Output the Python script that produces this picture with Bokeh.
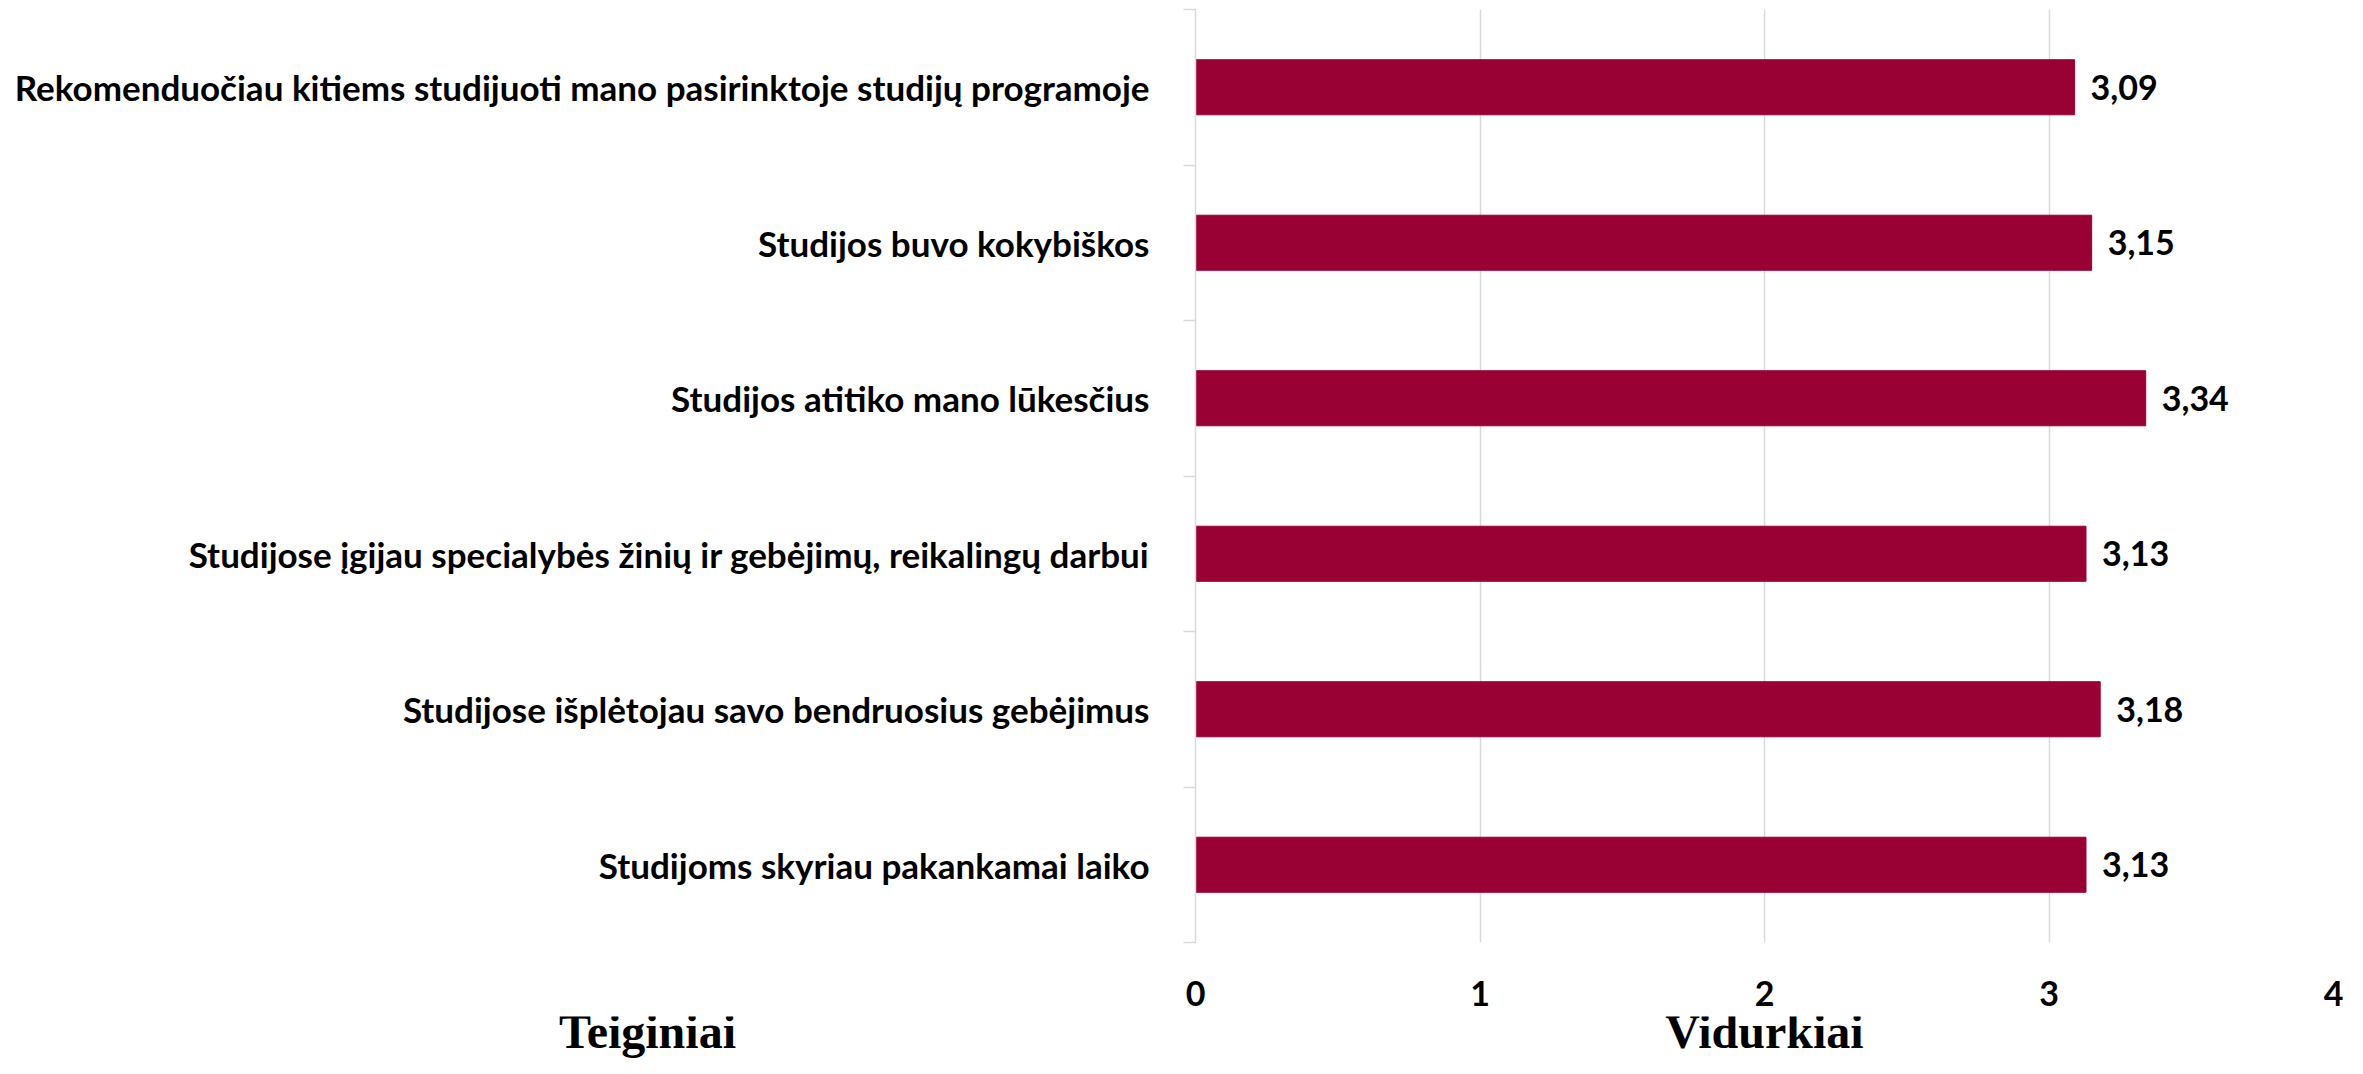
from bokeh.plotting import figure
from bokeh.layouts import column
from bokeh.models import ColumnDataSource, FixedTicker, Label, LabelSet, Range1d
from bokeh.embed import file_html
from bokeh.resources import INLINE
from bokeh.core.properties import value

categories = [
    "Studijoms skyriau pakankamai laiko",
    "Studijose išplėtojau savo bendruosius gebėjimus",
    "Studijose įgijau specialybės žinių ir gebėjimų, reikalingų darbui",
    "Studijos atitiko mano lūkesčius",
    "Studijos buvo kokybiškos",
    "Rekomenduočiau kitiems studijuoti mano pasirinktoje studijų programoje",
]
means = [3.13, 3.18, 3.13, 3.34, 3.15, 3.09]
x_ticks = [0, 1, 2, 3, 4]
x_title = "Vidurkiai"
y_title = "Teiginiai"

positions = list(range(1, len(categories) + 1))
bounds = [p_ - 0.5 for p_ in positions] + [positions[-1] + 0.5]
labels = [f"{v:.2f}".replace(".", ",") for v in means]
src = ColumnDataSource(dict(y=positions, x=means, label=labels))

FONT = "Lato"
BAR = "#990033"
GRID = "#d9d9d9"
W = 2347

p = figure(width=W, height=1016,
           x_range=Range1d(0, 4), y_range=Range1d(0.5, 6.5),
           output_backend="svg", toolbar_location=None,
           min_border_left=1195, min_border_right=14,
           min_border_top=9, min_border_bottom=74)
p.frame_align = False
p.outline_line_color = None

p.hbar(y="y", right="x", left=0, height=0.354, source=src,
       fill_color=BAR, line_color=BAR)

# x axis
p.xaxis.ticker = FixedTicker(ticks=x_ticks)
p.xaxis.axis_line_color = None
p.xaxis.major_tick_line_color = None
p.xaxis.minor_tick_line_color = None
p.xaxis.major_tick_out = 0
p.xaxis.major_tick_in = 0
p.xaxis.major_label_text_font = FONT
p.xaxis.major_label_text_font_style = "bold"
p.xaxis.major_label_text_font_size = "34px"
p.xaxis.major_label_text_color = "black"
p.xaxis.major_label_standoff = 38
p.xgrid.ticker = FixedTicker(ticks=x_ticks)
p.xgrid.grid_line_color = GRID
p.xgrid.grid_line_width = 1.5
p.ygrid.grid_line_color = None

# y axis
p.yaxis.ticker = FixedTicker(ticks=positions, minor_ticks=bounds)
p.yaxis.major_label_overrides = {pos: cat for pos, cat in zip(positions, categories)}
p.yaxis.major_tick_line_color = None
p.yaxis.major_tick_out = 0
p.yaxis.major_tick_in = 0
p.yaxis.minor_tick_out = 12
p.yaxis.minor_tick_in = 0
p.yaxis.minor_tick_line_color = GRID
p.yaxis.minor_tick_line_width = 1.5
p.yaxis.axis_line_color = GRID
p.yaxis.axis_line_width = 1.5
p.yaxis.major_label_text_font = FONT
p.yaxis.major_label_text_font_style = "bold"
p.yaxis.major_label_text_font_size = "35px"
p.yaxis.major_label_text_color = "black"
p.yaxis.major_label_standoff = 34

# value labels
p.add_layout(LabelSet(x="x", y="y", text="label", source=src, x_offset=16,
                      text_baseline="middle", text_align="left",
                      text_font=value(FONT), text_font_style="bold",
                      text_font_size="34px", text_color="black"))

# title strip below the chart
t = figure(width=W, height=42, x_range=Range1d(0, W), y_range=Range1d(0, 42),
           output_backend="svg", toolbar_location=None,
           x_axis_location=None, y_axis_location=None,
           min_border_left=0, min_border_right=0, min_border_top=0, min_border_bottom=0)
t.frame_align = False
t.grid.visible = False
t.outline_line_color = None
t.add_layout(Label(x=1764, y=27, x_units="screen", y_units="screen", text=x_title,
                   text_align="center", text_baseline="alphabetic",
                   text_font="Liberation Serif", text_font_style="bold",
                   text_font_size="48px", text_color="black"))
t.add_layout(Label(x=647, y=27, x_units="screen", y_units="screen", text=y_title,
                   text_align="center", text_baseline="alphabetic",
                   text_font="Liberation Serif", text_font_style="bold",
                   text_font_size="48px", text_color="black"))

layout = column(p, t, spacing=0)
open("out.html", "w").write(file_html(layout, INLINE))
